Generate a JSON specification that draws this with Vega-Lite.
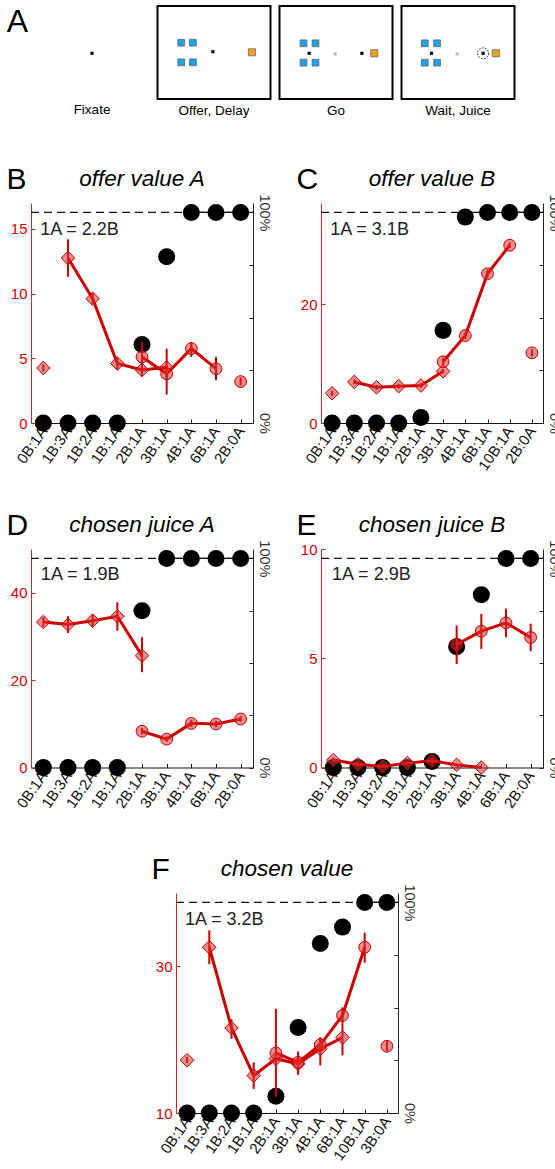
{
"$schema": "https://vega.github.io/schema/vega-lite/v6.json",
"padding": {"left": 6, "top": 5, "right": 0, "bottom": 0},
"datasets": {
"scr": [
{"s":1,"k":"dot","x":56.5,"y":47.3},
{"s":1,"k":"letter","x":-28.8,"y":25.7,"t":"A"},
{"s":2,"k":"frame","x":0,"x2":113,"y":0,"y2":93},
{"s":2,"k":"blue","x":23.7,"y":36.7},{"s":2,"k":"blue","x":35.4,"y":36.7},{"s":2,"k":"blue","x":23.7,"y":56.3},{"s":2,"k":"blue","x":35.4,"y":56.3},
{"s":2,"k":"dot","x":55.4,"y":45.7},
{"s":2,"k":"orange","x":94.4,"y":46.3},
{"s":3,"k":"frame","x":0,"x2":113,"y":0,"y2":93},
{"s":3,"k":"blue","x":24,"y":37.3},{"s":3,"k":"blue","x":36,"y":37.3},{"s":3,"k":"blue","x":24,"y":56.7},{"s":3,"k":"blue","x":36,"y":56.7},
{"s":3,"k":"dot","x":29.7,"y":47.3},
{"s":3,"k":"gray","x":55.7,"y":48},
{"s":3,"k":"dot","x":82.4,"y":47.3},
{"s":3,"k":"orange","x":94.7,"y":47.3},
{"s":4,"k":"frame","x":0,"x2":113,"y":0,"y2":93},
{"s":4,"k":"blue","x":23.3,"y":37.3},{"s":4,"k":"blue","x":35.6,"y":37.3},{"s":4,"k":"blue","x":23.3,"y":56.7},{"s":4,"k":"blue","x":35.6,"y":56.7},
{"s":4,"k":"dot","x":30,"y":47.3},
{"s":4,"k":"gray","x":55.6,"y":48},
{"s":4,"k":"ring","x":81.6,"y":47.3},
{"s":4,"k":"dot","x":81.6,"y":47.3},
{"s":4,"k":"orange","x":94.3,"y":47.3}
],
"red": [
{"p":"B","i":0,"t":"A","v":4.25,"lo":4.0,"hi":4.5,"s":null},
{"p":"B","i":1,"t":"A","v":12.75,"lo":11.3,"hi":14.2,"s":"A"},
{"p":"B","i":2,"t":"A","v":9.6,"lo":9.2,"hi":10.05,"s":"A"},
{"p":"B","i":3,"t":"A","v":4.6,"lo":4.1,"hi":5.05,"s":"A"},
{"p":"B","i":4,"t":"A","v":4.1,"lo":3.6,"hi":4.6,"s":"A"},
{"p":"B","i":4,"t":"B","v":5.1,"lo":4.0,"hi":6.25,"s":"B"},
{"p":"B","i":5,"t":"A","v":4.3,"lo":3.3,"hi":5.75,"s":"A"},
{"p":"B","i":5,"t":"B","v":3.8,"lo":2.2,"hi":4.5,"s":"B"},
{"p":"B","i":6,"t":"B","v":5.75,"lo":5.1,"hi":6.25,"s":"B"},
{"p":"B","i":7,"t":"B","v":4.2,"lo":3.3,"hi":5.1,"s":"B"},
{"p":"B","i":8,"t":"B","v":3.2,"lo":2.9,"hi":3.5,"s":null},
{"p":"C","i":0,"t":"A","v":5.0,"lo":4.6,"hi":5.4,"s":null},
{"p":"C","i":1,"t":"A","v":6.9,"lo":6.5,"hi":7.3,"s":"A"},
{"p":"C","i":2,"t":"A","v":6.0,"lo":5.6,"hi":6.4,"s":"A"},
{"p":"C","i":3,"t":"A","v":6.2,"lo":5.8,"hi":6.6,"s":"A"},
{"p":"C","i":4,"t":"A","v":6.3,"lo":5.9,"hi":6.7,"s":"A"},
{"p":"C","i":5,"t":"A","v":8.7,"lo":8.3,"hi":9.1,"s":"A"},
{"p":"C","i":5,"t":"B","v":10.3,"lo":9.7,"hi":10.9,"s":"B"},
{"p":"C","i":6,"t":"B","v":14.7,"lo":14.2,"hi":15.2,"s":"B"},
{"p":"C","i":7,"t":"B","v":25.1,"lo":24.4,"hi":25.8,"s":"B"},
{"p":"C","i":8,"t":"B","v":29.9,"lo":29.4,"hi":30.4,"s":"B"},
{"p":"C","i":9,"t":"B","v":11.8,"lo":11.2,"hi":12.4,"s":null},
{"p":"D","i":0,"t":"A","v":33.3,"lo":32.2,"hi":34.4,"s":"A"},
{"p":"D","i":1,"t":"A","v":32.7,"lo":30.8,"hi":34.6,"s":"A"},
{"p":"D","i":2,"t":"A","v":33.6,"lo":32.1,"hi":35.1,"s":"A"},
{"p":"D","i":3,"t":"A","v":34.6,"lo":31.3,"hi":37.8,"s":"A"},
{"p":"D","i":4,"t":"A","v":25.6,"lo":21.8,"hi":29.8,"s":"A"},
{"p":"D","i":4,"t":"B","v":8.3,"lo":7.6,"hi":9.0,"s":"B"},
{"p":"D","i":5,"t":"B","v":6.5,"lo":5.9,"hi":7.1,"s":"B"},
{"p":"D","i":6,"t":"B","v":10.1,"lo":9.3,"hi":10.9,"s":"B"},
{"p":"D","i":7,"t":"B","v":9.95,"lo":9.2,"hi":10.7,"s":"B"},
{"p":"D","i":8,"t":"B","v":11.1,"lo":10.5,"hi":11.7,"s":"B"},
{"p":"E","i":0,"t":"A","v":0.34,"lo":0.22,"hi":0.46,"s":"A"},
{"p":"E","i":1,"t":"A","v":0.15,"lo":0.05,"hi":0.25,"s":"A"},
{"p":"E","i":2,"t":"A","v":0.05,"lo":0.0,"hi":0.1,"s":"A"},
{"p":"E","i":3,"t":"A","v":0.2,"lo":0.1,"hi":0.3,"s":"A"},
{"p":"E","i":4,"t":"A","v":0.31,"lo":0.2,"hi":0.42,"s":"A"},
{"p":"E","i":5,"t":"A","v":0.12,"lo":0.05,"hi":0.19,"s":"A"},
{"p":"E","i":6,"t":"A","v":0.0,"lo":0.0,"hi":0.0,"s":"A"},
{"p":"E","i":5,"t":"B","v":5.63,"lo":4.74,"hi":6.5,"s":"B"},
{"p":"E","i":6,"t":"B","v":6.24,"lo":5.43,"hi":7.03,"s":"B"},
{"p":"E","i":7,"t":"B","v":6.62,"lo":5.96,"hi":7.27,"s":"B"},
{"p":"E","i":8,"t":"B","v":5.95,"lo":5.32,"hi":6.58,"s":"B"},
{"p":"F","i":0,"t":"A","v":17.2,"lo":16.8,"hi":17.6,"s":null},
{"p":"F","i":1,"t":"A","v":32.6,"lo":30.3,"hi":34.9,"s":"A"},
{"p":"F","i":2,"t":"A","v":21.6,"lo":20.1,"hi":22.8,"s":"A"},
{"p":"F","i":3,"t":"A","v":15.1,"lo":13.3,"hi":16.9,"s":"A"},
{"p":"F","i":4,"t":"A","v":17.4,"lo":16.9,"hi":17.9,"s":"A"},
{"p":"F","i":4,"t":"B","v":18.2,"lo":12.2,"hi":24.2,"s":"B"},
{"p":"F","i":5,"t":"A","v":16.7,"lo":15.2,"hi":18.2,"s":"A"},
{"p":"F","i":5,"t":"B","v":16.9,"lo":15.5,"hi":18.4,"s":"B"},
{"p":"F","i":6,"t":"A","v":18.75,"lo":16.5,"hi":20.3,"s":"A"},
{"p":"F","i":6,"t":"B","v":19.3,"lo":18.4,"hi":20.3,"s":"B"},
{"p":"F","i":7,"t":"A","v":20.3,"lo":17.85,"hi":22.2,"s":"A"},
{"p":"F","i":7,"t":"B","v":23.3,"lo":22.2,"hi":24.4,"s":"B"},
{"p":"F","i":8,"t":"B","v":32.6,"lo":30.5,"hi":34.6,"s":"B"},
{"p":"F","i":9,"t":"B","v":19.1,"lo":18.4,"hi":19.8,"s":null}
],
"black": [
{"p":"B","i":0,"pct":0},{"p":"B","i":1,"pct":0},{"p":"B","i":2,"pct":0},{"p":"B","i":3,"pct":0},{"p":"B","i":4,"pct":37.3},{"p":"B","i":5,"pct":79},{"p":"B","i":6,"pct":100},{"p":"B","i":7,"pct":100},{"p":"B","i":8,"pct":100},
{"p":"C","i":0,"pct":0},{"p":"C","i":1,"pct":0},{"p":"C","i":2,"pct":0},{"p":"C","i":3,"pct":0},{"p":"C","i":4,"pct":2.6},{"p":"C","i":5,"pct":44},{"p":"C","i":6,"pct":97.8},{"p":"C","i":7,"pct":100},{"p":"C","i":8,"pct":100},{"p":"C","i":9,"pct":100},
{"p":"D","i":0,"pct":0},{"p":"D","i":1,"pct":0},{"p":"D","i":2,"pct":0},{"p":"D","i":3,"pct":0},{"p":"D","i":4,"pct":75},{"p":"D","i":5,"pct":100},{"p":"D","i":6,"pct":100},{"p":"D","i":7,"pct":100},{"p":"D","i":8,"pct":100},
{"p":"E","i":0,"pct":0},{"p":"E","i":1,"pct":0},{"p":"E","i":2,"pct":0},{"p":"E","i":3,"pct":0},{"p":"E","i":4,"pct":2.9},{"p":"E","i":5,"pct":57.8},{"p":"E","i":6,"pct":82.6},{"p":"E","i":7,"pct":100},{"p":"E","i":8,"pct":100},
{"p":"F","i":0,"pct":0},{"p":"F","i":1,"pct":0},{"p":"F","i":2,"pct":0},{"p":"F","i":3,"pct":0},{"p":"F","i":4,"pct":8},{"p":"F","i":5,"pct":40.6},{"p":"F","i":6,"pct":80.5},{"p":"F","i":7,"pct":88.3},{"p":"F","i":8,"pct":100},{"p":"F","i":9,"pct":100}
],
"ref": [
{"p":"B","k":"dash","i":-0.5,"i2":8.5,"pct":100},{"p":"B","k":"solid","i":6,"i2":8.5,"pct":100},
{"p":"C","k":"dash","i":-0.5,"i2":9.5,"pct":100},{"p":"C","k":"solid","i":6,"i2":9.5,"pct":100},
{"p":"D","k":"dash","i":-0.5,"i2":8.5,"pct":100},{"p":"D","k":"solid","i":5,"i2":8.5,"pct":100},
{"p":"E","k":"dash","i":-0.5,"i2":8.5,"pct":100},{"p":"E","k":"solid","i":7,"i2":8.5,"pct":100},
{"p":"F","k":"dash","i":-0.5,"i2":9.5,"pct":100},{"p":"F","k":"solid","i":8,"i2":9.5,"pct":100}
],
"notes": [
{"p":"B","i":-0.13,"pct":89.5,"text":"1A = 2.2B"},
{"p":"C","i":-0.08,"pct":89.5,"text":"1A = 3.1B"},
{"p":"D","i":-0.1,"pct":89.5,"text":"1A = 1.9B"},
{"p":"E","i":-0.05,"pct":89.5,"text":"1A = 2.9B"},
{"p":"F","i":-0.1,"pct":89.5,"text":"1A = 3.2B"}
]
},
"vconcat": [
{
"hconcat": [
{"width":113,"height":93,"title":{"text":"Fixate","orient":"bottom","fontStyle":"normal","fontSize":13.5,"offset":4},
 "data":{"name":"scr"},"transform":[{"filter":"datum.s==1"}],
 "encoding":{"x":{"field":"x","type":"quantitative","scale":{"domain":[0,113],"nice":false,"zero":false},"axis":null},"y":{"field":"y","type":"quantitative","scale":{"domain":[0,93],"reverse":true,"nice":false,"zero":false},"axis":null}},
 "layer":[
  {"transform":[{"filter":"datum.k=='dot'"}],"mark":{"type":"square","size":10,"color":"#000000","opacity":1}},
  {"transform":[{"filter":"datum.k=='letter'"}],"mark":{"type":"text","align":"left","baseline":"alphabetic","fontSize":32,"color":"black","fontStyle":"normal"},"encoding":{"text":{"field":"t"}}}
 ]},
{"width":113,"height":93,"title":{"text":"Offer, Delay","orient":"bottom","fontStyle":"normal","fontSize":13.5,"offset":4},
 "data":{"name":"scr"},"transform":[{"filter":"datum.s==2"}],
 "encoding":{"x":{"field":"x","type":"quantitative","scale":{"domain":[0,113],"nice":false,"zero":false},"axis":null},"y":{"field":"y","type":"quantitative","scale":{"domain":[0,93],"reverse":true,"nice":false,"zero":false},"axis":null}},
 "layer":[
  {"transform":[{"filter":"datum.k=='frame'"}],"mark":{"type":"rect","filled":false,"color":"black","strokeWidth":2},"encoding":{"x2":{"field":"x2"},"y2":{"field":"y2"}}},
  {"transform":[{"filter":"datum.k=='blue'"}],"mark":{"type":"square","size":46,"color":"#1ba3ec","stroke":"#666666","strokeWidth":0.8,"opacity":1}},
  {"transform":[{"filter":"datum.k=='orange'"}],"mark":{"type":"square","size":50,"color":"#f5a01a","stroke":"#666666","strokeWidth":0.8,"opacity":1}},
  {"transform":[{"filter":"datum.k=='dot'"}],"mark":{"type":"square","size":10,"color":"#000000","opacity":1}}
 ]},
{"width":113,"height":93,"title":{"text":"Go","orient":"bottom","fontStyle":"normal","fontSize":13.5,"offset":4},
 "data":{"name":"scr"},"transform":[{"filter":"datum.s==3"}],
 "encoding":{"x":{"field":"x","type":"quantitative","scale":{"domain":[0,113],"nice":false,"zero":false},"axis":null},"y":{"field":"y","type":"quantitative","scale":{"domain":[0,93],"reverse":true,"nice":false,"zero":false},"axis":null}},
 "layer":[
  {"transform":[{"filter":"datum.k=='frame'"}],"mark":{"type":"rect","filled":false,"color":"black","strokeWidth":2},"encoding":{"x2":{"field":"x2"},"y2":{"field":"y2"}}},
  {"transform":[{"filter":"datum.k=='blue'"}],"mark":{"type":"square","size":46,"color":"#1ba3ec","stroke":"#666666","strokeWidth":0.8,"opacity":1}},
  {"transform":[{"filter":"datum.k=='orange'"}],"mark":{"type":"square","size":50,"color":"#f5a01a","stroke":"#666666","strokeWidth":0.8,"opacity":1}},
  {"transform":[{"filter":"datum.k=='gray'"}],"mark":{"type":"square","size":10,"color":"#bbbbbb","opacity":1}},
  {"transform":[{"filter":"datum.k=='dot'"}],"mark":{"type":"square","size":10,"color":"#000000","opacity":1}}
 ]},
{"width":155,"height":93,"title":{"text":"Wait, Juice","orient":"bottom","fontStyle":"normal","fontSize":13.5,"offset":4,"dx":-21},
 "data":{"name":"scr"},"transform":[{"filter":"datum.s==4"}],
 "encoding":{"x":{"field":"x","type":"quantitative","scale":{"domain":[0,155],"nice":false,"zero":false},"axis":null},"y":{"field":"y","type":"quantitative","scale":{"domain":[0,93],"reverse":true,"nice":false,"zero":false},"axis":null}},
 "layer":[
  {"transform":[{"filter":"datum.k=='frame'"}],"mark":{"type":"rect","filled":false,"color":"black","strokeWidth":2},"encoding":{"x2":{"field":"x2"},"y2":{"field":"y2"}}},
  {"transform":[{"filter":"datum.k=='blue'"}],"mark":{"type":"square","size":46,"color":"#1ba3ec","stroke":"#666666","strokeWidth":0.8,"opacity":1}},
  {"transform":[{"filter":"datum.k=='orange'"}],"mark":{"type":"square","size":50,"color":"#f5a01a","stroke":"#666666","strokeWidth":0.8,"opacity":1}},
  {"transform":[{"filter":"datum.k=='gray'"}],"mark":{"type":"square","size":10,"color":"#bbbbbb","opacity":1}},
  {"transform":[{"filter":"datum.k=='ring'"}],"mark":{"type":"point","shape":"circle","filled":false,"size":120,"color":"black","strokeWidth":1,"strokeDash":[1.5,1.5],"opacity":1}},
  {"transform":[{"filter":"datum.k=='dot'"}],"mark":{"type":"square","size":10,"color":"#000000","opacity":1}}
 ]}
],
"spacing": 9, "bounds": "flush"
},
{
"vconcat": [
{
"hconcat": [
{"width":222,"height":220,"title":{"text":"offer value A"},
 "encoding":{"x":{"field":"i","type":"quantitative","scale":{"domain":[-0.5,8.5],"nice":false,"zero":false},"axis":{"title":null,"values":[0,1,2,3,4,5,6,7,8],"labelExpr":"['0B:1A','1B:3A','1B:2A','1B:1A','2B:1A','3B:1A','4B:1A','6B:1A','2B:0A'][datum.value]"}}},
 "layer":[
  {"encoding":{"y":{"field":"pct","type":"quantitative","scale":{"domain":[0,104.5],"nice":false,"zero":false},"axis":{"orient":"right","title":null,"values":[0,25,50,75,100],"labelExpr":"datum.value==0 ? '0%' : (datum.value==100 ? '100%' : '')"}}},
   "layer":[
    {"data":{"name":"ref"},"transform":[{"filter":"datum.p=='B' && datum.k=='dash'"}],"mark":{"type":"rule","strokeDash":[8,5],"color":"#111111","strokeWidth":1.2},"encoding":{"x2":{"field":"i2"}}},
    {"data":{"name":"ref"},"transform":[{"filter":"datum.p=='B' && datum.k=='solid'"}],"mark":{"type":"rule","color":"#111111","strokeWidth":1.2},"encoding":{"x2":{"field":"i2"}}},
    {"data":{"name":"black"},"transform":[{"filter":"datum.p=='B'"}],"mark":{"type":"circle","size":290,"color":"black","opacity":1}},
    {"data":{"name":"notes"},"transform":[{"filter":"datum.p=='B'"}],"mark":{"type":"text","align":"left","baseline":"alphabetic","fontSize":18,"color":"#222222"},"encoding":{"text":{"field":"text"}}}
   ]},
  {"data":{"name":"red"},"transform":[{"filter":"datum.p=='B'"}],
   "encoding":{"y":{"field":"v","type":"quantitative","scale":{"domain":[0,17],"nice":false,"zero":false},"axis":{"orient":"left","title":"B","values":[0,5,10,15],"titleX":-25,"titleY":-14.4}}},
   "layer":[
    {"mark":{"type":"rule","color":"#cc0000","strokeWidth":2},"encoding":{"y":{"field":"lo","type":"quantitative","scale":{"domain":[0,17],"nice":false,"zero":false},"axis":{"orient":"left","title":"B","values":[0,5,10,15],"titleX":-25,"titleY":-14.4}},"y2":{"field":"hi"}}},
    {"transform":[{"filter":"datum.s != null"}],"mark":{"type":"line","color":"#cc0000","strokeWidth":3},"encoding":{"detail":{"field":"s"}}},
    {"transform":[{"filter":"datum.t=='A'"}],"mark":{"type":"point","shape":"diamond","filled":true,"size":185,"color":"#e03030","fillOpacity":0.55,"stroke":"#c40000","strokeWidth":1,"opacity":1}},
    {"transform":[{"filter":"datum.t=='B'"}],"mark":{"type":"point","shape":"circle","filled":true,"size":140,"color":"#e03030","fillOpacity":0.55,"stroke":"#c40000","strokeWidth":1,"opacity":1}}
   ]}
 ],
 "resolve":{"scale":{"y":"independent"}}},
{"width":222,"height":220,"title":{"text":"offer value B"},
 "encoding":{"x":{"field":"i","type":"quantitative","scale":{"domain":[-0.5,9.5],"nice":false,"zero":false},"axis":{"title":null,"values":[0,1,2,3,4,5,6,7,8,9],"labelExpr":"['0B:1A','1B:3A','1B:2A','1B:1A','2B:1A','3B:1A','4B:1A','6B:1A','10B:1A','2B:0A'][datum.value]"}}},
 "layer":[
  {"encoding":{"y":{"field":"pct","type":"quantitative","scale":{"domain":[0,104.5],"nice":false,"zero":false},"axis":{"orient":"right","title":null,"values":[0,25,50,75,100],"labelExpr":"datum.value==0 ? '0%' : (datum.value==100 ? '100%' : '')"}}},
   "layer":[
    {"data":{"name":"ref"},"transform":[{"filter":"datum.p=='C' && datum.k=='dash'"}],"mark":{"type":"rule","strokeDash":[8,5],"color":"#111111","strokeWidth":1.2},"encoding":{"x2":{"field":"i2"}}},
    {"data":{"name":"ref"},"transform":[{"filter":"datum.p=='C' && datum.k=='solid'"}],"mark":{"type":"rule","color":"#111111","strokeWidth":1.2},"encoding":{"x2":{"field":"i2"}}},
    {"data":{"name":"black"},"transform":[{"filter":"datum.p=='C'"}],"mark":{"type":"circle","size":290,"color":"black","opacity":1}},
    {"data":{"name":"notes"},"transform":[{"filter":"datum.p=='C'"}],"mark":{"type":"text","align":"left","baseline":"alphabetic","fontSize":18,"color":"#222222"},"encoding":{"text":{"field":"text"}}}
   ]},
  {"data":{"name":"red"},"transform":[{"filter":"datum.p=='C'"}],
   "encoding":{"y":{"field":"v","type":"quantitative","scale":{"domain":[0,37],"nice":false,"zero":false},"axis":{"orient":"left","title":"C","values":[0,20],"titleX":-25,"titleY":-14.4}}},
   "layer":[
    {"mark":{"type":"rule","color":"#cc0000","strokeWidth":2},"encoding":{"y":{"field":"lo","type":"quantitative","scale":{"domain":[0,37],"nice":false,"zero":false},"axis":{"orient":"left","title":"C","values":[0,20],"titleX":-25,"titleY":-14.4}},"y2":{"field":"hi"}}},
    {"transform":[{"filter":"datum.s != null"}],"mark":{"type":"line","color":"#cc0000","strokeWidth":3},"encoding":{"detail":{"field":"s"}}},
    {"transform":[{"filter":"datum.t=='A'"}],"mark":{"type":"point","shape":"diamond","filled":true,"size":185,"color":"#e03030","fillOpacity":0.55,"stroke":"#c40000","strokeWidth":1,"opacity":1}},
    {"transform":[{"filter":"datum.t=='B'"}],"mark":{"type":"point","shape":"circle","filled":true,"size":140,"color":"#e03030","fillOpacity":0.55,"stroke":"#c40000","strokeWidth":1,"opacity":1}}
   ]}
 ],
 "resolve":{"scale":{"y":"independent"}}}
],
"spacing": 68, "bounds": "flush"
},
{
"vconcat": [
{
"hconcat": [
{"width":222,"height":218.5,"title":{"text":"chosen juice A"},
 "encoding":{"x":{"field":"i","type":"quantitative","scale":{"domain":[-0.5,8.5],"nice":false,"zero":false},"axis":{"title":null,"values":[0,1,2,3,4,5,6,7,8],"labelExpr":"['0B:1A','1B:3A','1B:2A','1B:1A','2B:1A','3B:1A','4B:1A','6B:1A','2B:0A'][datum.value]"}}},
 "layer":[
  {"encoding":{"y":{"field":"pct","type":"quantitative","scale":{"domain":[0,104.5],"nice":false,"zero":false},"axis":{"orient":"right","title":null,"values":[0,25,50,75,100],"labelExpr":"datum.value==0 ? '0%' : (datum.value==100 ? '100%' : '')"}}},
   "layer":[
    {"data":{"name":"ref"},"transform":[{"filter":"datum.p=='D' && datum.k=='dash'"}],"mark":{"type":"rule","strokeDash":[8,5],"color":"#111111","strokeWidth":1.2},"encoding":{"x2":{"field":"i2"}}},
    {"data":{"name":"ref"},"transform":[{"filter":"datum.p=='D' && datum.k=='solid'"}],"mark":{"type":"rule","color":"#111111","strokeWidth":1.2},"encoding":{"x2":{"field":"i2"}}},
    {"data":{"name":"black"},"transform":[{"filter":"datum.p=='D'"}],"mark":{"type":"circle","size":290,"color":"black","opacity":1}},
    {"data":{"name":"notes"},"transform":[{"filter":"datum.p=='D'"}],"mark":{"type":"text","align":"left","baseline":"alphabetic","fontSize":18,"color":"#222222"},"encoding":{"text":{"field":"text"}}}
   ]},
  {"data":{"name":"red"},"transform":[{"filter":"datum.p=='D'"}],
   "encoding":{"y":{"field":"v","type":"quantitative","scale":{"domain":[0,50],"nice":false,"zero":false},"axis":{"orient":"left","title":"D","values":[0,20,40],"titleX":-25,"titleY":-14.4}}},
   "layer":[
    {"mark":{"type":"rule","color":"#cc0000","strokeWidth":2},"encoding":{"y":{"field":"lo","type":"quantitative","scale":{"domain":[0,50],"nice":false,"zero":false},"axis":{"orient":"left","title":"D","values":[0,20,40],"titleX":-25,"titleY":-14.4}},"y2":{"field":"hi"}}},
    {"transform":[{"filter":"datum.s != null"}],"mark":{"type":"line","color":"#cc0000","strokeWidth":3},"encoding":{"detail":{"field":"s"}}},
    {"transform":[{"filter":"datum.t=='A'"}],"mark":{"type":"point","shape":"diamond","filled":true,"size":185,"color":"#e03030","fillOpacity":0.55,"stroke":"#c40000","strokeWidth":1,"opacity":1}},
    {"transform":[{"filter":"datum.t=='B'"}],"mark":{"type":"point","shape":"circle","filled":true,"size":140,"color":"#e03030","fillOpacity":0.55,"stroke":"#c40000","strokeWidth":1,"opacity":1}}
   ]}
 ],
 "resolve":{"scale":{"y":"independent"}}},
{"width":222,"height":218.5,"title":{"text":"chosen juice B"},
 "encoding":{"x":{"field":"i","type":"quantitative","scale":{"domain":[-0.5,8.5],"nice":false,"zero":false},"axis":{"title":null,"values":[0,1,2,3,4,5,6,7,8],"labelExpr":"['0B:1A','1B:3A','1B:2A','1B:1A','2B:1A','3B:1A','4B:1A','6B:1A','2B:0A'][datum.value]"}}},
 "layer":[
  {"encoding":{"y":{"field":"pct","type":"quantitative","scale":{"domain":[0,104.5],"nice":false,"zero":false},"axis":{"orient":"right","title":null,"values":[0,25,50,75,100],"labelExpr":"datum.value==0 ? '0%' : (datum.value==100 ? '100%' : '')"}}},
   "layer":[
    {"data":{"name":"ref"},"transform":[{"filter":"datum.p=='E' && datum.k=='dash'"}],"mark":{"type":"rule","strokeDash":[8,5],"color":"#111111","strokeWidth":1.2},"encoding":{"x2":{"field":"i2"}}},
    {"data":{"name":"ref"},"transform":[{"filter":"datum.p=='E' && datum.k=='solid'"}],"mark":{"type":"rule","color":"#111111","strokeWidth":1.2},"encoding":{"x2":{"field":"i2"}}},
    {"data":{"name":"black"},"transform":[{"filter":"datum.p=='E'"}],"mark":{"type":"circle","size":290,"color":"black","opacity":1}},
    {"data":{"name":"notes"},"transform":[{"filter":"datum.p=='E'"}],"mark":{"type":"text","align":"left","baseline":"alphabetic","fontSize":18,"color":"#222222"},"encoding":{"text":{"field":"text"}}}
   ]},
  {"data":{"name":"red"},"transform":[{"filter":"datum.p=='E'"}],
   "encoding":{"y":{"field":"v","type":"quantitative","scale":{"domain":[0,10],"nice":false,"zero":false},"axis":{"orient":"left","title":"E","values":[0,5,10],"titleX":-25,"titleY":-14.4}}},
   "layer":[
    {"mark":{"type":"rule","color":"#cc0000","strokeWidth":2},"encoding":{"y":{"field":"lo","type":"quantitative","scale":{"domain":[0,10],"nice":false,"zero":false},"axis":{"orient":"left","title":"E","values":[0,5,10],"titleX":-25,"titleY":-14.4}},"y2":{"field":"hi"}}},
    {"transform":[{"filter":"datum.s != null"}],"mark":{"type":"line","color":"#cc0000","strokeWidth":3},"encoding":{"detail":{"field":"s"}}},
    {"transform":[{"filter":"datum.t=='A'"}],"mark":{"type":"point","shape":"diamond","filled":true,"size":185,"color":"#e03030","fillOpacity":0.55,"stroke":"#c40000","strokeWidth":1,"opacity":1}},
    {"transform":[{"filter":"datum.t=='B'"}],"mark":{"type":"point","shape":"circle","filled":true,"size":140,"color":"#e03030","fillOpacity":0.55,"stroke":"#c40000","strokeWidth":1,"opacity":1}}
   ]}
 ],
 "resolve":{"scale":{"y":"independent"}}}
],
"spacing": 68, "bounds": "flush"
},
{"width":222,"height":220,"title":{"text":"chosen value"},
 "encoding":{"x":{"field":"i","type":"quantitative","scale":{"domain":[-0.5,9.5],"nice":false,"zero":false},"axis":{"title":null,"values":[0,1,2,3,4,5,6,7,8,9],"labelExpr":"['0B:1A','1B:3A','1B:2A','1B:1A','2B:1A','3B:1A','4B:1A','6B:1A','10B:1A','3B:0A'][datum.value]"}}},
 "layer":[
  {"encoding":{"y":{"field":"pct","type":"quantitative","scale":{"domain":[0,104.5],"nice":false,"zero":false},"axis":{"orient":"right","title":null,"values":[0,25,50,75,100],"labelExpr":"datum.value==0 ? '0%' : (datum.value==100 ? '100%' : '')"}}},
   "layer":[
    {"data":{"name":"ref"},"transform":[{"filter":"datum.p=='F' && datum.k=='dash'"}],"mark":{"type":"rule","strokeDash":[8,5],"color":"#111111","strokeWidth":1.2},"encoding":{"x2":{"field":"i2"}}},
    {"data":{"name":"ref"},"transform":[{"filter":"datum.p=='F' && datum.k=='solid'"}],"mark":{"type":"rule","color":"#111111","strokeWidth":1.2},"encoding":{"x2":{"field":"i2"}}},
    {"data":{"name":"black"},"transform":[{"filter":"datum.p=='F'"}],"mark":{"type":"circle","size":290,"color":"black","opacity":1}},
    {"data":{"name":"notes"},"transform":[{"filter":"datum.p=='F'"}],"mark":{"type":"text","align":"left","baseline":"alphabetic","fontSize":18,"color":"#222222"},"encoding":{"text":{"field":"text"}}}
   ]},
  {"data":{"name":"red"},"transform":[{"filter":"datum.p=='F'"}],
   "encoding":{"y":{"field":"v","type":"quantitative","scale":{"domain":[10,40],"nice":false,"zero":false},"axis":{"orient":"left","title":"F","values":[10,30],"titleX":-25,"titleY":-14.4}}},
   "layer":[
    {"mark":{"type":"rule","color":"#cc0000","strokeWidth":2},"encoding":{"y":{"field":"lo","type":"quantitative","scale":{"domain":[10,40],"nice":false,"zero":false},"axis":{"orient":"left","title":"F","values":[10,30],"titleX":-25,"titleY":-14.4}},"y2":{"field":"hi"}}},
    {"transform":[{"filter":"datum.s != null"}],"mark":{"type":"line","color":"#cc0000","strokeWidth":3},"encoding":{"detail":{"field":"s"}}},
    {"transform":[{"filter":"datum.t=='A'"}],"mark":{"type":"point","shape":"diamond","filled":true,"size":185,"color":"#e03030","fillOpacity":0.55,"stroke":"#c40000","strokeWidth":1,"opacity":1}},
    {"transform":[{"filter":"datum.t=='B'"}],"mark":{"type":"point","shape":"circle","filled":true,"size":140,"color":"#e03030","fillOpacity":0.55,"stroke":"#c40000","strokeWidth":1,"opacity":1}}
   ]}
 ],
 "resolve":{"scale":{"y":"independent"}}}
],
"spacing": 43, "center": true
}
],
"spacing": 37, "center": true
}
],
"spacing": 46, "center": true,
"config": {
 "font": "Liberation Sans",
 "view": {"stroke": null},
 "title": {"font": "Liberation Sans", "fontSize": 22.5, "fontStyle": "italic", "fontWeight": "normal", "color": "black", "frame": "group", "anchor": "middle", "offset": -26},
 "axis": {"grid": false, "labelFont": "Liberation Sans", "titleFont": "Liberation Sans", "domainWidth": 1},
 "axisBottom": {"domainColor": "#111111", "tickColor": "#111111", "tickSize": -4, "labelAngle": -55, "labelAlign": "right", "labelBaseline": "middle", "labelFontSize": 15, "labelPadding": 9, "labelColor": "#111111", "labelOverlap": false, "labelFlush": false, "labelBound": false},
 "axisLeft": {"domainColor": "#d62a2a", "tickColor": "#d62a2a", "labelColor": "#e00000", "tickSize": -4, "labelPadding": 8, "labelFontSize": 15, "labelFlush": false, "labelBound": false, "labelOverlap": false, "titleAngle": 0, "titleAlign": "left", "titleBaseline": "alphabetic", "titleFontSize": 30, "titleFontWeight": "normal", "titleColor": "black"},
 "axisRight": {"domainColor": "#222222", "tickColor": "#222222", "labelColor": "#333333", "tickSize": -4, "labelPadding": 7, "labelFontSize": 14.5, "labelAngle": 90, "labelAlign": "center", "labelBaseline": "bottom", "labelFlush": false, "labelBound": false, "labelOverlap": false}
}
}
